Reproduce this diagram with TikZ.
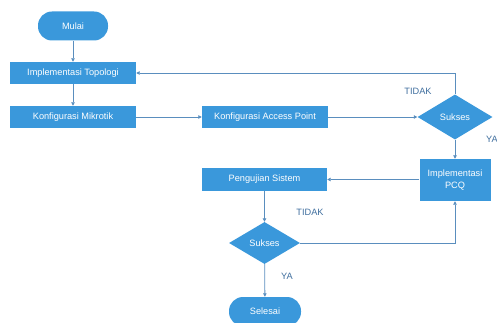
\documentclass[tikz,border=0pt]{standalone}
\usepackage{fontspec}
\setmainfont{Liberation Sans}
\usetikzlibrary{shapes.geometric,arrows.meta}
\definecolor{boxblue}{HTML}{3A98DB}
\definecolor{lineblue}{HTML}{5A8EBE}
\definecolor{lblblue}{HTML}{3F6E9E}
\tikzset{
  box/.style={rectangle, fill=boxblue, text=white, inner sep=0pt, font=\fontsize{9.2}{11.5}\selectfont, align=center},
  term/.style={box, rounded corners=14pt, minimum width=70pt, minimum height=29pt},
  proc/.style={box, minimum width=126pt, minimum height=22pt},
  dec/.style={diamond, fill=boxblue, text=white, inner sep=0pt, font=\fontsize{9.2}{11.5}\selectfont},
  conn/.style={draw=lineblue, line width=0.8pt, -{Triangle[length=3.5pt,width=3.5pt]}},
  lbl/.style={text=lblblue, font=\fontsize{9.2}{11.5}\selectfont, inner sep=0pt}
}
\begin{document}
\begin{tikzpicture}[x=1pt,y=-1pt]
\clip (0,0) rectangle (497,323);
\useasboundingbox (0,0) rectangle (497,323);
\node[term] (mulai) at (73,26) {Mulai};
\node[proc] (topo) at (73,73) {Implementasi Topologi};
\node[proc] (mikro) at (73,117) {Konfigurasi Mikrotik};
\node[proc] (ap) at (265,117) {Konfigurasi Access Point};
\node[dec, minimum width=75pt, minimum height=45pt] (suk1) at (455,117) {Sukses};
\node[box, minimum width=71pt, minimum height=42pt] (pcq) at (455,180) {Implementasi\\PCQ};
\node[box, minimum width=125pt, minimum height=23pt] (uji) at (264.5,179.5) {Pengujian Sistem};
\node[dec, minimum width=71pt, minimum height=42pt] (suk2) at (264.5,243) {Sukses};
\node[term, minimum width=72pt] (selesai) at (265,311.5) {Selesai};
\node[lbl] (t1) at (418,91) {TIDAK};
\node[lbl] (y1) at (492,139) {YA};
\node[lbl] (t2) at (310,212) {TIDAK};
\node[lbl] (y2) at (287,276) {YA};
\draw[conn] (mulai) -- (topo);
\draw[conn] (topo) -- (mikro);
\draw[conn] (mikro) -- (ap);
\draw[conn] (ap) -- (suk1);
\draw[conn] (suk1.north) -- (suk1.north |- topo.east) -- (topo.east);
\draw[conn] (suk1) -- (pcq);
\draw[conn] (pcq.west |- uji.east) -- (uji.east);
\draw[conn] (uji) -- (suk2);
\draw[conn] (suk2.east) -| (pcq.south);
\draw[conn] (suk2) -- (selesai);
\end{tikzpicture}
\end{document}
